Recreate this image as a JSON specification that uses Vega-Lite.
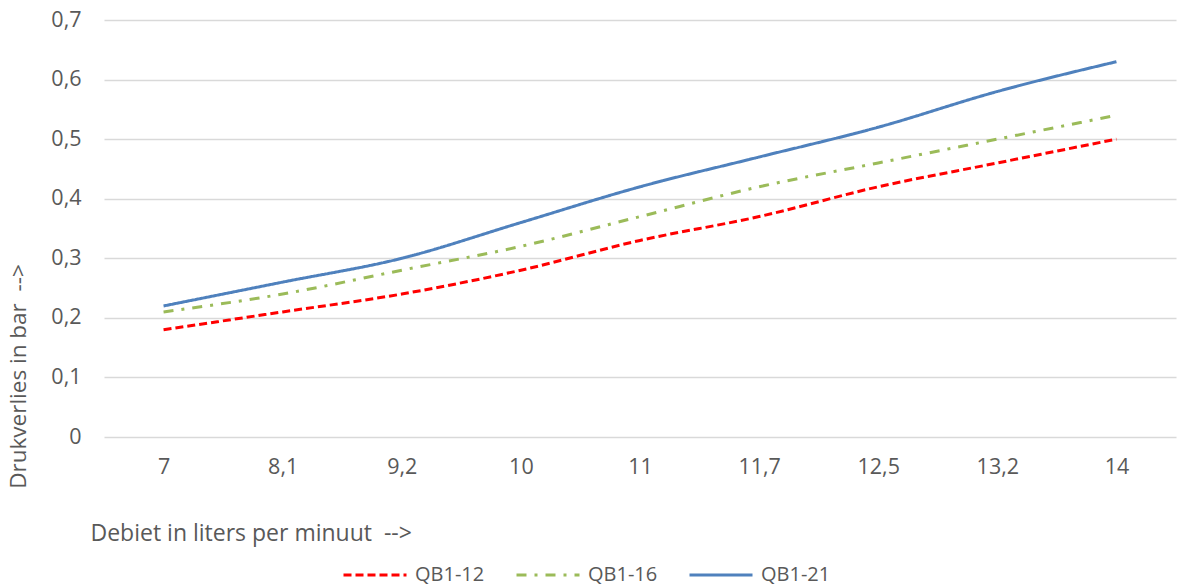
{
  "$schema": "https://vega.github.io/schema/vega-lite/v6.json",
  "width": 1072,
  "height": 417,
  "autosize": {"type": "none"},
  "padding": {"left": 104, "top": 20, "right": 2, "bottom": 150},
  "background": "white",
  "config": {
    "view": {"stroke": null},
    "font": "Open Sans",
    "text": {"font": "Open Sans"}
  },
  "data": {
    "values": [
      {"debiet": "7", "serie": "QB1-12", "druk": 0.18},
      {"debiet": "8,1", "serie": "QB1-12", "druk": 0.21},
      {"debiet": "9,2", "serie": "QB1-12", "druk": 0.24},
      {"debiet": "10", "serie": "QB1-12", "druk": 0.28},
      {"debiet": "11", "serie": "QB1-12", "druk": 0.33},
      {"debiet": "11,7", "serie": "QB1-12", "druk": 0.37},
      {"debiet": "12,5", "serie": "QB1-12", "druk": 0.42},
      {"debiet": "13,2", "serie": "QB1-12", "druk": 0.46},
      {"debiet": "14", "serie": "QB1-12", "druk": 0.50},
      {"debiet": "7", "serie": "QB1-16", "druk": 0.21},
      {"debiet": "8,1", "serie": "QB1-16", "druk": 0.24},
      {"debiet": "9,2", "serie": "QB1-16", "druk": 0.28},
      {"debiet": "10", "serie": "QB1-16", "druk": 0.32},
      {"debiet": "11", "serie": "QB1-16", "druk": 0.37},
      {"debiet": "11,7", "serie": "QB1-16", "druk": 0.42},
      {"debiet": "12,5", "serie": "QB1-16", "druk": 0.46},
      {"debiet": "13,2", "serie": "QB1-16", "druk": 0.50},
      {"debiet": "14", "serie": "QB1-16", "druk": 0.54},
      {"debiet": "7", "serie": "QB1-21", "druk": 0.22},
      {"debiet": "8,1", "serie": "QB1-21", "druk": 0.26},
      {"debiet": "9,2", "serie": "QB1-21", "druk": 0.30},
      {"debiet": "10", "serie": "QB1-21", "druk": 0.36},
      {"debiet": "11", "serie": "QB1-21", "druk": 0.42},
      {"debiet": "11,7", "serie": "QB1-21", "druk": 0.47},
      {"debiet": "12,5", "serie": "QB1-21", "druk": 0.52},
      {"debiet": "13,2", "serie": "QB1-21", "druk": 0.58},
      {"debiet": "14", "serie": "QB1-21", "druk": 0.63}
    ]
  },
  "mark": {"type": "line", "interpolate": "monotone", "strokeWidth": 3},
  "encoding": {
    "x": {
      "field": "debiet",
      "type": "ordinal",
      "sort": null,
      "scale": {"type": "point", "padding": 0.5},
      "axis": {
        "title": "Debiet in liters per minuut \u00a0-->",
        "labelAngle": 0,
        "labelFontSize": 21.5,
        "labelColor": "#595959",
        "labelPadding": 19,
        "ticks": false,
        "domain": false,
        "grid": false,
        "titleFontSize": 23,
        "titleFontWeight": "normal",
        "titleColor": "#595959",
        "titleAnchor": "start",
        "titleAlign": "left",
        "titleBaseline": "alphabetic",
        "titleX": -14,
        "titleY": 103
      }
    },
    "y": {
      "field": "druk",
      "type": "quantitative",
      "scale": {"domain": [0, 0.7], "nice": false, "zero": true},
      "axis": {
        "title": "Drukverlies in bar \u00a0-->",
        "values": [0, 0.1, 0.2, 0.3, 0.4, 0.5, 0.6, 0.7],
        "labelExpr": "datum.value == 0 ? '0' : replace(format(datum.value, '.1f'), '.', ',')",
        "labelFontSize": 21.5,
        "labelColor": "#595959",
        "labelPadding": 23,
        "ticks": false,
        "domain": false,
        "grid": true,
        "gridColor": "#D9D9D9",
        "gridWidth": 1.5,
        "titleFontSize": 22.5,
        "titleFontWeight": "normal",
        "titleColor": "#595959",
        "titleAngle": -90,
        "titleAlign": "center",
        "titleBaseline": "alphabetic",
        "titleX": -79,
        "titleY": 356
      }
    },
    "color": {
      "field": "serie",
      "type": "nominal",
      "scale": {"domain": ["QB1-12", "QB1-16", "QB1-21"], "range": ["#FF0000", "#9BBB59", "#4F81BD"]},
      "legend": {
        "title": null,
        "orient": "none",
        "direction": "horizontal",
        "legendX": 238,
        "legendY": 522,
        "symbolType": "stroke",
        "symbolSize": 3969,
        "symbolStrokeWidth": 3,
        "labelFontSize": 20,
        "labelColor": "#595959",
        "labelOffset": 7,
        "columnPadding": 25
      }
    },
    "strokeDash": {
      "field": "serie",
      "type": "nominal",
      "scale": {"domain": ["QB1-12", "QB1-16", "QB1-21"], "range": [[8, 4], [10, 8, 3, 8], [1, 0]]},
      "legend": {
        "title": null,
        "orient": "none",
        "direction": "horizontal",
        "legendX": 238,
        "legendY": 522,
        "symbolType": "stroke",
        "symbolSize": 3969,
        "symbolStrokeWidth": 3,
        "labelFontSize": 20,
        "labelColor": "#595959",
        "labelOffset": 7,
        "columnPadding": 25
      }
    }
  }
}
